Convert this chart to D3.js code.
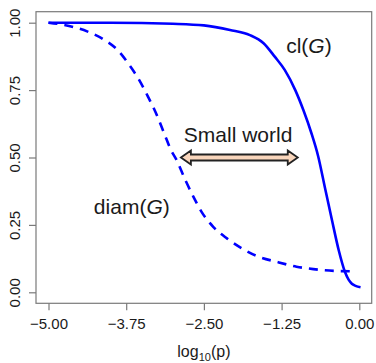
<!DOCTYPE html>
<html>
<head>
<meta charset="utf-8">
<script src="https://cdn.jsdelivr.net/npm/d3@7"></script>
<style>
  body { margin: 0; background: #fff; }
  svg text { font-family: "Liberation Sans", Arial, sans-serif; fill: #1a1a1a; }
</style>
</head>
<body>
<svg id="chart" width="376" height="363"></svg>
<script>
// log10(p) values
const clX = [-5.0, -4.0, -3.0, -2.5, -2.08, -1.76, -1.54, -1.36, -1.2, -1.03, -0.9, -0.77, -0.66, -0.55, -0.44, -0.33, -0.23, -0.17, -0.12, -0.06, 0.02];
const clY = [1.0, 1.0, 0.996, 0.99, 0.973, 0.954, 0.924, 0.874, 0.825, 0.75, 0.676, 0.59, 0.503, 0.385, 0.268, 0.155, 0.075, 0.046, 0.032, 0.024, 0.019];

const diamX = [-5.0, -4.67, -4.37, -4.1, -3.89, -3.7, -3.54, -3.4, -3.27, -3.14, -3.03, -2.94, -2.8, -2.67, -2.54, -2.35, -2.13, -1.89, -1.62, -1.33, -1.01, -0.74, -0.36, -0.1];
const diamY = [1.0, 0.988, 0.967, 0.936, 0.899, 0.843, 0.787, 0.726, 0.664, 0.59, 0.528, 0.491, 0.417, 0.355, 0.299, 0.243, 0.2, 0.163, 0.132, 0.113, 0.095, 0.086, 0.079, 0.078];

const xTicks = [-5, -3.75, -2.5, -1.25, 0];
const yTicks = [0, 0.25, 0.5, 0.75, 1];

// small world arrow span (data units)
const arrowX = [-2.87, -0.99];
const arrowY = 0.5;

const svg = d3.select('#chart');
const box = { left: 36, top: 11.7, right: 371.7, bottom: 303.3 };

const x = d3.scaleLinear().domain([-5, 0]).range([48.5, 359.3]);
const y = d3.scaleLinear().domain([0, 1]).range([292.3, 22.7]);
const fmt = d3.format('.2f');

// frame
svg.append('rect')
  .attr('x', box.left).attr('y', box.top)
  .attr('width', box.right - box.left).attr('height', box.bottom - box.top)
  .attr('fill', 'none').attr('stroke', '#7a7a7a').attr('stroke-width', 1.2);

const xAxis = svg.append('g')
  .attr('transform', `translate(0,${box.bottom})`)
  .call(d3.axisBottom(x).tickValues(xTicks).tickFormat(fmt).tickSize(7).tickPadding(8).tickSizeOuter(0));
xAxis.select('.domain').remove();
xAxis.selectAll('line').attr('stroke', '#7a7a7a').attr('stroke-width', 1.2);
xAxis.selectAll('text').attr('font-size', 15).attr('font-family', null).attr('fill', '#1a1a1a');

const yAxis = svg.append('g')
  .attr('transform', `translate(${box.left},0)`)
  .call(d3.axisLeft(y).tickValues(yTicks).tickFormat(fmt).tickSize(7).tickSizeOuter(0));
yAxis.select('.domain').remove();
yAxis.selectAll('line').attr('stroke', '#7a7a7a').attr('stroke-width', 1.2);
yAxis.selectAll('text')
  .attr('font-size', 15).attr('font-family', null).attr('fill', '#1a1a1a')
  .attr('x', null).attr('dy', null)
  .attr('text-anchor', 'middle')
  .attr('transform', 'translate(-16,0) rotate(-90)');

// axis title
const title = svg.append('text')
  .attr('x', x(-2.5)).attr('y', 357)
  .attr('text-anchor', 'middle').attr('font-size', 16);
title.append('tspan').text('log');
title.append('tspan').attr('font-size', 11).attr('dy', 4).text('10');
title.append('tspan').attr('dy', -4).text('(p)');

// curves
const line = d3.line().x(d => x(d[0])).y(d => y(d[1])).curve(d3.curveMonotoneX);

svg.append('path')
  .datum(d3.zip(diamX, diamY))
  .attr('d', line)
  .attr('fill', 'none').attr('stroke', '#0000ff').attr('stroke-width', 2.6)
  .attr('stroke-dasharray', '9,7');

svg.append('path')
  .datum(d3.zip(clX, clY))
  .attr('d', line)
  .attr('fill', 'none').attr('stroke', '#0000ff').attr('stroke-width', 2.6);

// double arrow
const x0 = x(arrowX[0]), x1 = x(arrowX[1]), ay = y(arrowY);
const head = 10, hh = 7, sh = 3;
const pts = [
  [x0, ay], [x0 + head, ay - hh], [x0 + head, ay - sh], [x1 - head, ay - sh],
  [x1 - head, ay - hh], [x1, ay], [x1 - head, ay + hh], [x1 - head, ay + sh],
  [x0 + head, ay + sh], [x0 + head, ay + hh]
];
svg.append('path')
  .attr('d', 'M' + pts.map(p => p.join(',')).join('L') + 'Z')
  .attr('fill', '#f9d6bc').attr('stroke', '#222').attr('stroke-width', 1.8)
  .attr('stroke-linejoin', 'miter');

// labels
svg.append('text')
  .attr('x', x(-1.95)).attr('y', y(0.559))
  .attr('text-anchor', 'middle').attr('font-size', 21)
  .text('Small world');

function gLabel(prefix, cx, cy) {
  const t = svg.append('text')
    .attr('x', x(cx)).attr('y', y(cy))
    .attr('text-anchor', 'middle').attr('font-size', 21);
  t.append('tspan').text(prefix + '(');
  t.append('tspan').attr('font-style', 'italic').text('G');
  t.append('tspan').text(')');
}
gLabel('cl', -0.81, 0.886);
gLabel('diam', -3.66, 0.29);
</script>
</body>
</html>
